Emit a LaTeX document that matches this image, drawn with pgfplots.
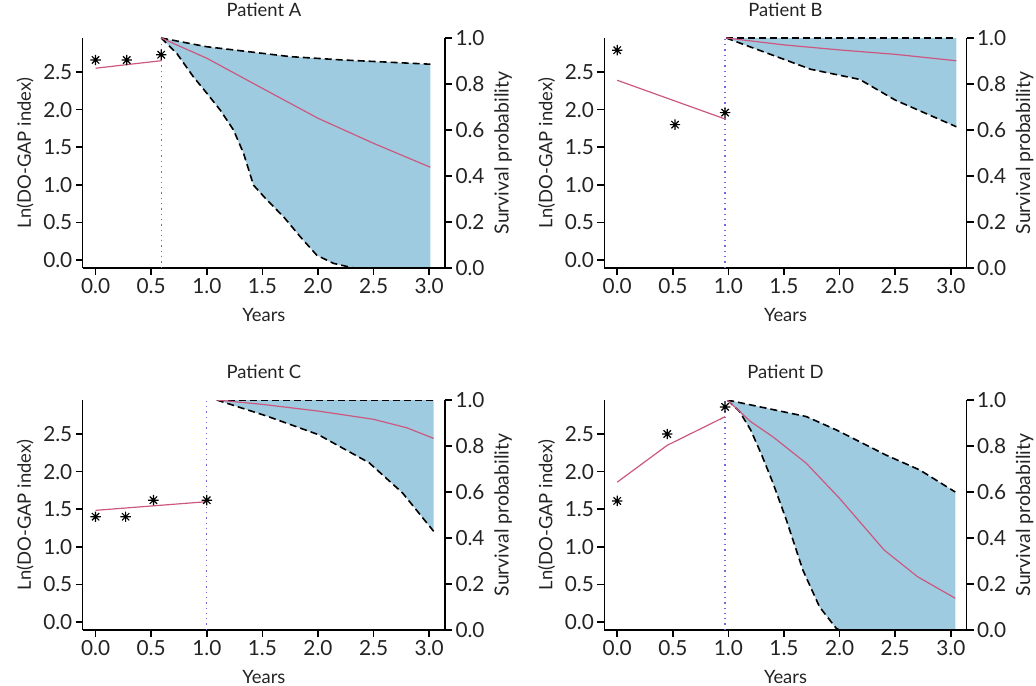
\documentclass[border=0pt]{standalone}
\usepackage{fontspec}
\setmainfont{Lato}
\usepackage{pgfplots}
\pgfplotsset{compat=1.18}
\usepgfplotslibrary{fillbetween}
\definecolor{bandblue}{RGB}{158,203,224}
\definecolor{meanpink}{RGB}{204,88,128}
\definecolor{vlineblue}{RGB}{115,105,220}
\definecolor{txt}{RGB}{35,35,35}
\newcommand{\fsz}{\fontsize{9.2}{11}\selectfont}
\newcommand{\rsz}{\fontsize{9.7}{11}\selectfont}
\newcommand{\tsz}{\fontsize{10.4}{12}\selectfont}
\pgfdeclareplotmark{ast8}{%
  \pgfpathmoveto{\pgfqpoint{0pt}{\pgfplotmarksize}}\pgfpathlineto{\pgfqpoint{0pt}{-\pgfplotmarksize}}%
  \pgfpathmoveto{\pgfqpoint{\pgfplotmarksize}{0pt}}\pgfpathlineto{\pgfqpoint{-\pgfplotmarksize}{0pt}}%
  \pgfpathmoveto{\pgfqpoint{0.707\pgfplotmarksize}{0.707\pgfplotmarksize}}\pgfpathlineto{\pgfqpoint{-0.707\pgfplotmarksize}{-0.707\pgfplotmarksize}}%
  \pgfpathmoveto{\pgfqpoint{0.707\pgfplotmarksize}{-0.707\pgfplotmarksize}}\pgfpathlineto{\pgfqpoint{-0.707\pgfplotmarksize}{0.707\pgfplotmarksize}}%
  \pgfusepathqstroke}
\pgfplotsset{
  base/.style={
    scale only axis, width=181.2pt, height=115pt,
    xmin=-0.116, xmax=3.143,
    tick align=outside, major tick length=3.5pt,
    axis line style={line width=0.75pt}, every tick/.style={line width=0.75pt, black},
    tick label style={font=\tsz, inner sep=1.5pt, text=txt}, label style={font=\fsz, text=txt}, title style={font=\fsz, text=txt},
    /pgf/number format/assume math mode=true,
    /pgf/number format/fixed, /pgf/number format/fixed zerofill, /pgf/number format/precision=1,
  },
  dash/.style={black, dash pattern=on 3.5pt off 2pt, line width=0.8pt},
  mean/.style={meanpink, line width=0.6pt},
  stars/.style={only marks, mark=ast8, mark size=2.6pt, black, line width=0.6pt},
  vl/.style={vlineblue, dotted, line width=0.65pt},
  leftax/.style={base,
    ymin=-0.106, ymax=2.952,
    axis x line*=bottom, axis y line*=left,
    xtick={0,0.5,1,1.5,2,2.5,3}, ytick={0,0.5,1,1.5,2,2.5},
    xlabel={Years}, ylabel={Ln(DO-GAP index)},
    xlabel style={at={(axis description cs:0.5,-0.204)}, anchor=center},
    ylabel style={at={(axis description cs:-0.159,0.5)}, anchor=center},
    title style={at={(axis description cs:0.5,1.07)}, anchor=center},
    clip=false,
  },
  rightax/.style={base,
    ymin=0, ymax=1,
    axis x line=none, axis y line*=right,
    ytick={0,0.2,0.4,0.6,0.8,1.0},
    ylabel={Survival probability},
    ylabel style={at={(axis description cs:1.160,0.5)}, anchor=center, rotate=0, font=\rsz},
  },
}
\begin{document}
\begin{tikzpicture}
% ===== Patient A =====
\begin{axis}[rightax, at={(41.35pt,208.5pt)}, anchor=south west]
\addplot[name path=au, draw=none] coordinates {(0.59,1.0) (1.0,0.962) (1.75,0.919) (2.2,0.905) (3.01,0.886)};
\addplot[name path=al, draw=none] coordinates {(0.59,1.0) (0.73,0.933) (0.878,0.832) (1.0,0.76) (1.12,0.687) (1.24,0.60) (1.33,0.499) (1.42,0.36) (1.54,0.296) (1.69,0.223) (1.84,0.136) (1.99,0.055) (2.14,0.02) (2.32,0.0) (3.01,0.0)};
\addplot[bandblue, draw=none] fill between[of=au and al];
\addplot[dash] coordinates {(0.59,1.0) (1.0,0.962) (1.75,0.919) (2.2,0.905) (3.01,0.886)};
\addplot[dash] coordinates {(0.59,1.0) (0.73,0.933) (0.878,0.832) (1.0,0.76) (1.12,0.687) (1.24,0.60) (1.33,0.499) (1.42,0.36) (1.54,0.296) (1.69,0.223) (1.84,0.136) (1.99,0.055) (2.14,0.02) (2.32,0.0)};
\addplot[mean] coordinates {(0.59,1.0) (1.0,0.912) (1.5,0.781) (2.0,0.651) (2.5,0.542) (3.01,0.438)};
\end{axis}
\begin{axis}[leftax, at={(41.35pt,208.5pt)}, anchor=south west, title={Patient A}]
\addplot[vl] coordinates {(0.59,-0.106) (0.59,2.952)};
\addplot[mean] coordinates {(0,2.55) (0.59,2.65)};
\addplot[stars] coordinates {(0,2.66) (0.28,2.66) (0.59,2.73)};
\end{axis}
% ===== Patient B =====
\begin{axis}[rightax, at={(302.15pt,208.5pt)}, anchor=south west]
\addplot[name path=bu, draw=none] coordinates {(0.98,1.0) (3.05,1.0)};
\addplot[name path=bl, draw=none] coordinates {(0.98,1.0) (1.5,0.907) (1.74,0.864) (2.18,0.82) (2.5,0.73) (3.05,0.614)};
\addplot[bandblue, draw=none] fill between[of=bu and bl];
\addplot[dash] coordinates {(0.98,1.0) (3.05,1.0)};
\addplot[dash] coordinates {(0.98,1.0) (1.5,0.907) (1.74,0.864) (2.18,0.82) (2.5,0.73) (3.05,0.614)};
\addplot[mean] coordinates {(0.98,1.0) (1.5,0.97) (2.0,0.948) (2.5,0.929) (3.05,0.901)};
\end{axis}
\begin{axis}[leftax, at={(302.15pt,208.5pt)}, anchor=south west, title={Patient B}]
\addplot[vl] coordinates {(0.97,-0.106) (0.97,2.952)};
\addplot[mean] coordinates {(0,2.39) (0.97,1.875)};
\addplot[stars] coordinates {(0,2.79) (0.52,1.80) (0.97,1.96)};
\end{axis}
% ===== Patient C =====
\begin{axis}[rightax, at={(41.35pt,27.5pt)}, anchor=south west]
\addplot[name path=cu, draw=none] coordinates {(1.09,1.0) (3.04,1.0)};
\addplot[name path=cl, draw=none] coordinates {(1.09,1.0) (1.54,0.93) (2.0,0.85) (2.46,0.727) (2.76,0.596) (3.04,0.429)};
\addplot[bandblue, draw=none] fill between[of=cu and cl];
\addplot[dash] coordinates {(1.09,1.0) (3.04,1.0)};
\addplot[dash] coordinates {(1.09,1.0) (1.54,0.93) (2.0,0.85) (2.46,0.727) (2.76,0.596) (3.04,0.429)};
\addplot[mean] coordinates {(1.09,1.0) (1.5,0.981) (2.0,0.952) (2.5,0.916) (2.8,0.879) (3.04,0.833)};
\end{axis}
\begin{axis}[leftax, at={(41.35pt,27.5pt)}, anchor=south west, title={Patient C}]
\addplot[vl] coordinates {(1.0,-0.106) (1.0,2.952)};
\addplot[mean] coordinates {(0,1.485) (1.0,1.60)};
\addplot[stars] coordinates {(0,1.40) (0.27,1.40) (0.52,1.62) (1.0,1.62)};
\end{axis}
% ===== Patient D =====
\begin{axis}[rightax, at={(302.15pt,27.5pt)}, anchor=south west]
\addplot[name path=du, draw=none] coordinates {(0.99,1.0) (1.70,0.928) (1.97,0.87) (2.42,0.76) (2.72,0.696) (3.04,0.60)};
\addplot[name path=dl, draw=none] coordinates {(0.99,1.0) (1.1,0.95) (1.2,0.87) (1.3,0.76) (1.4,0.64) (1.52,0.48) (1.67,0.26) (1.82,0.10) (1.97,0.007) (2.0,0.0) (3.04,0.0)};
\addplot[bandblue, draw=none] fill between[of=du and dl];
\addplot[dash] coordinates {(0.99,1.0) (1.70,0.928) (1.97,0.87) (2.42,0.76) (2.72,0.696) (3.04,0.60)};
\addplot[dash] coordinates {(0.99,1.0) (1.1,0.95) (1.2,0.87) (1.3,0.76) (1.4,0.64) (1.52,0.48) (1.67,0.26) (1.82,0.10) (1.97,0.007) (2.0,0.0)};
\addplot[mean] coordinates {(0.99,1.0) (1.2,0.906) (1.4,0.84) (1.7,0.725) (2.0,0.572) (2.4,0.348) (2.7,0.232) (3.04,0.138)};
\end{axis}
\begin{axis}[leftax, at={(302.15pt,27.5pt)}, anchor=south west, title={Patient D}]
\addplot[vl] coordinates {(0.97,-0.106) (0.97,2.952)};
\addplot[mean] coordinates {(0,1.86) (0.45,2.35) (0.97,2.73)};
\addplot[stars] coordinates {(0,1.61) (0.45,2.50) (0.97,2.86)};
\end{axis}
\pgfresetboundingbox
\path[use as bounding box] (0pt,0pt) rectangle (518pt,342.5pt);
\end{tikzpicture}
\end{document}
